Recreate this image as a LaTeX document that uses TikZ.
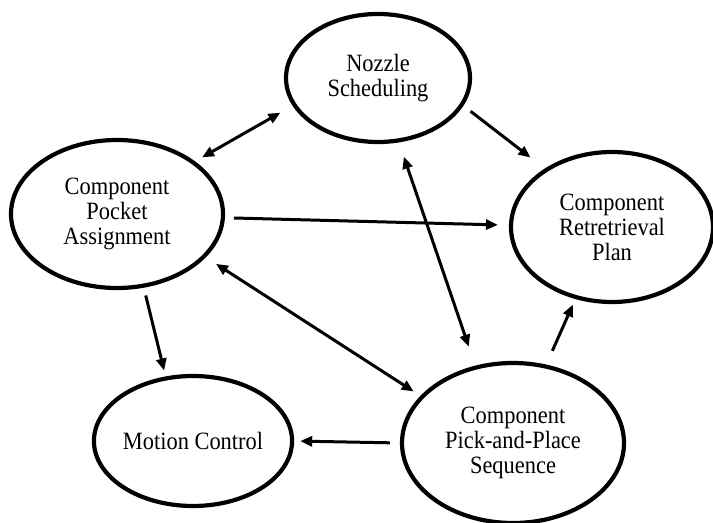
\documentclass[tikz,border=0pt]{standalone}
\usepackage{fontspec}
\setmainfont[FakeStretch=0.9]{Liberation Serif}
\usetikzlibrary{shapes.geometric,arrows.meta}
\tikzset{
  stage/.style={draw, ellipse, line width=4.2bp, inner sep=0pt, align=center,
    font=\fontsize{25}{25}\selectfont},
  link/.style={line width=3bp, -{Triangle[length=12bp,width=10bp]}},
  twolink/.style={link, {Triangle[length=12bp,width=10bp]}-{Triangle[length=12bp,width=10bp]}}
}
\begin{document}
\begin{tikzpicture}[x=1bp,y=-1bp]
            \useasboundingbox (0,0) rectangle (713,523);
            
            % Drawing the five stages
            \node [stage, minimum width=184bp, minimum height=128bp] (noz) at (378,78) {Nozzle\\Scheduling};%
            \node [stage, minimum width=212bp, minimum height=148bp] (cpa) at (117,214) {Component\\Pocket\\Assignment};%
            \node [stage, minimum width=202bp, minimum height=150bp] (crp) at (612,227) {Component\\Retretrieval\\Plan};%
            \node [stage, minimum width=184bp, minimum height=130bp] (mot) at (193,441) {Motion Control};%
            \node [stage, minimum width=222bp, minimum height=160bp] (pnp) at (513,443) {Component\\Pick-and-Place\\Sequence};%
            
            % Drawing links between stages
            \draw [twolink, shorten <=8bp, shorten >=14bp] (cpa.34) -- (noz.198);%
            \draw [link, shorten <=9bp, shorten >=18bp] (noz.-18) -- (crp.139);%
            \draw [link, shorten <=9bp, shorten >=11bp] (cpa.-2) -- (crp.179.5);%
            \draw [twolink, shorten <=15bp, shorten >=20bp] (noz.-72.7) -- (pnp.116.3);%
            \draw [twolink, shorten <=12bp, shorten >=8bp] (cpa.-26.3) -- (pnp.153);%
            \draw [link, shorten <=8bp, shorten >=6bp] (cpa.-70.5) -- (mot.113.1);%
            \draw [link, shorten <=10bp, shorten >=6bp] (pnp.180) -- (mot.0);%
            \draw [link, shorten <=15bp, shorten >=6bp] (pnp.67.3) -- (crp.243.4);%
            
\end{tikzpicture}
\end{document}
